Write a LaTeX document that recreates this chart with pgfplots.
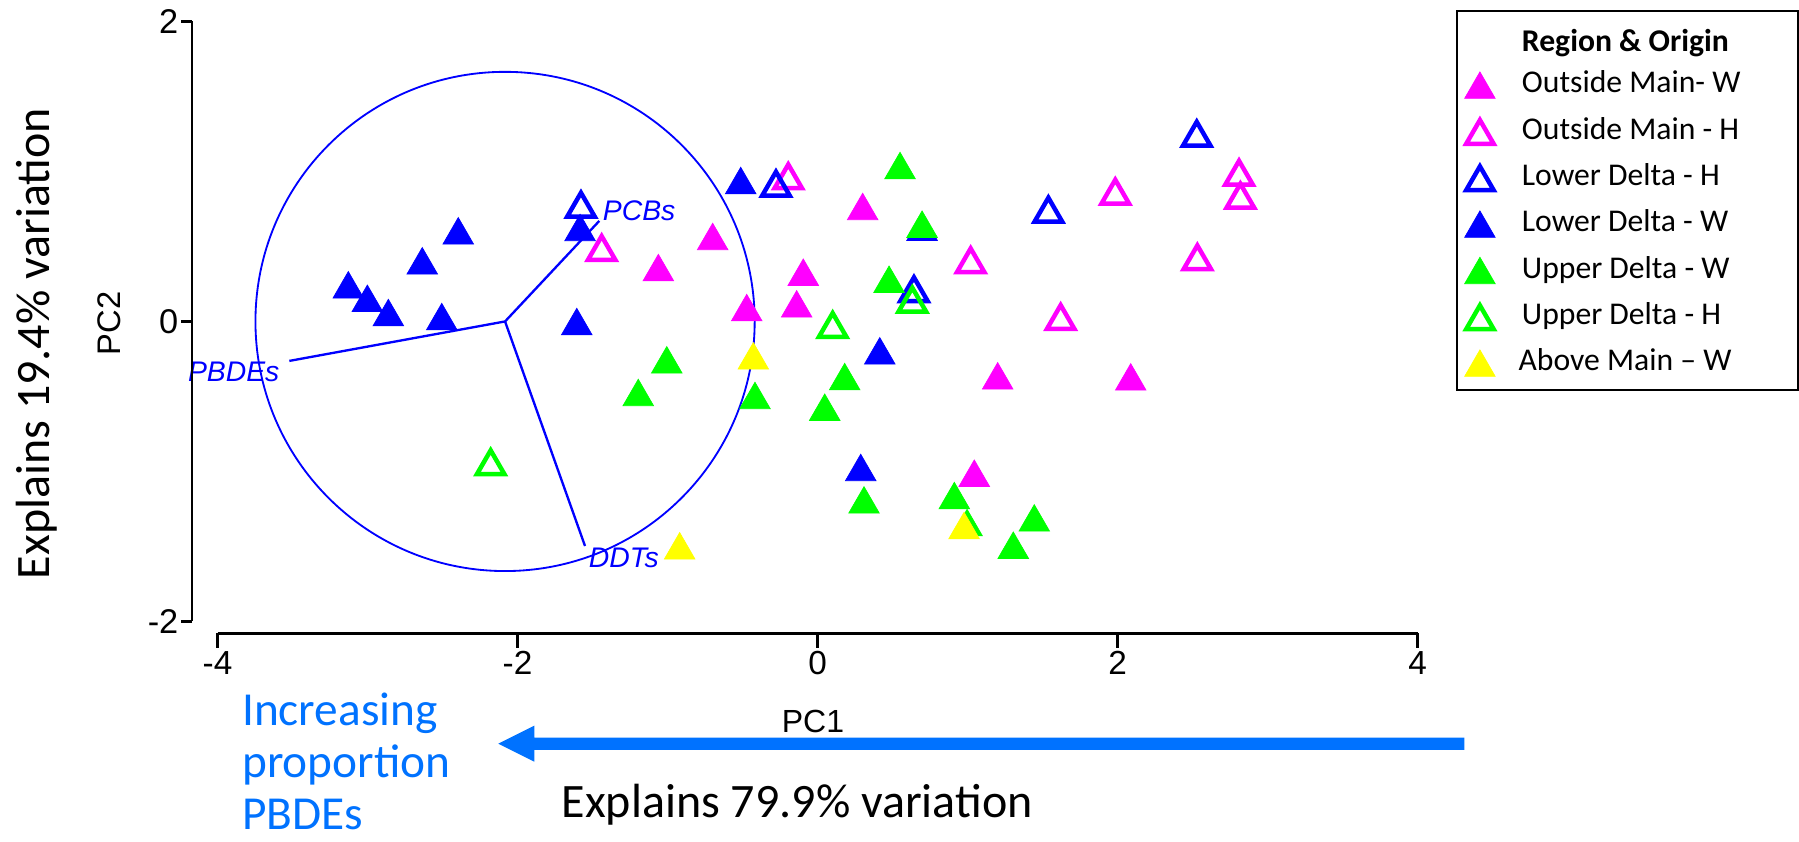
\documentclass[border=0pt]{standalone}
\usepackage{pgfplots}
\pgfplotsset{compat=1.18}
\usepackage{fontspec}
\setmainfont{Carlito}
\newfontfamily\arial{Liberation Sans}
\definecolor{mag}{RGB}{255,0,255}
\definecolor{blu}{RGB}{0,0,255}
\definecolor{grn}{RGB}{0,255,0}
\definecolor{yel}{RGB}{255,255,0}
\definecolor{arrowblue}{RGB}{0,114,255}
\pgfplotsset{
  filled/.style={only marks, mark=triangle*, mark size=5.3pt,
    mark options={solid, draw=#1, fill=#1, line width=0.2pt}},
  hollow/.style={only marks, mark=triangle, mark size=4.75pt,
    mark options={solid, draw=#1, line width=1.35pt}},
  mylegimg/.style={legend image code/.code={%
    \path[draw=none, fill=none] (-6.9pt,-3pt) rectangle (12.6pt,3pt);
    \draw[##1] plot coordinates {(0pt,-1.5pt)};}},
}
\newcommand{\lt}[1]{\makebox[82.8pt][l]{#1}}
\begin{document}
\begin{tikzpicture}
\begin{axis}[
  x=45pt, y=45pt,
  xmin=-5.45, xmax=6.543, ymin=-3.47, ymax=2.143,
  hide axis, clip=false,
  legend style={at={(axis cs:4.257,2.077)}, anchor=north west, draw=black, line width=0.5pt,
     inner xsep=0pt, inner ysep=1.3pt, row sep=0pt, column sep=0pt,
     font=\fontsize{9.5}{11}\selectfont,
     nodes={inner sep=0pt, text height=7pt, text depth=2pt, minimum height=13.9pt}},
  legend cell align=left,
  mylegimg,
]
\addlegendimage{empty legend}
\addlegendentry{\lt{\raisebox{-1.4pt}{\textbf{Region \& Origin}}}}

% Outside Main - W
\addplot[filled=mag] coordinates {
(-1.061,0.33) (0.301,0.737) (-0.699,0.537) (-0.095,0.299) (-0.472,0.063)
(-0.139,0.088) (1.201,-0.392) (2.088,-0.399) (1.045,-1.041)};
\addlegendentry{\lt{Outside Main- W}}
% Outside Main - H
\addplot[hollow=mag] coordinates {
(-1.439,0.463) (-0.195,0.941) (1.021,0.381) (1.621,0.003) (2.81,0.965)
(2.819,0.812) (1.985,0.839) (2.532,0.401)};
\addlegendentry{\lt{Outside Main - H}}
% Lower Delta - H
\addplot[hollow=blu] coordinates {
(-1.577,0.752) (-0.277,0.892) (1.539,0.719) (0.643,0.188) (2.528,1.225)};
\addlegendentry{\lt{Lower Delta - H}}
% Lower Delta - W
\addplot[filled=blu] coordinates {
(-2.395,0.575) (-2.635,0.375) (-3.128,0.215) (-3.001,0.125) (-2.861,0.03)
(-2.505,0.003) (-1.583,0.597) (-1.605,-0.03) (-0.512,0.91) (0.415,-0.225)
(0.288,-1.003) (0.697,0.599)};
\addlegendentry{\lt{Lower Delta - W}}
% Upper Delta - W
\addplot[filled=grn] coordinates {
(-1.005,-0.285) (-1.195,-0.503) (0.55,1.01) (0.477,0.252) (0.181,-0.397)
(-0.417,-0.523) (0.048,-0.601) (0.31,-1.219) (0.912,-1.19) (0.997,-1.37)
(1.445,-1.339) (1.305,-1.521) (0.697,0.619)};
\addlegendentry{\lt{Upper Delta - W}}
% Upper Delta - H
\addplot[hollow=grn] coordinates {
(0.632,0.119) (0.101,-0.05) (-2.179,-0.965)};
\addlegendentry{\lt{Upper Delta - H}}
% Above Main - W
\addplot[filled=yel] coordinates {
(-0.428,-0.259) (0.977,-1.39) (-0.919,-1.525)};
\addlegendentry{\lt{\hspace{-1pt}Above Main -- W}}

% loadings circle and vectors
\draw[blu, line width=0.55pt] (axis cs:-2.083,0) circle[radius=1.664];
\draw[blu, line width=0.7pt] (axis cs:-1.455,0.67) -- (axis cs:-2.083,0) -- (axis cs:-3.521,-0.263);
\draw[blu, line width=0.7pt] (axis cs:-2.083,0) -- (axis cs:-1.55,-1.497);
\node[anchor=west, inner sep=0pt, text=blu, font=\arial\itshape\fontsize{8.5}{10}\selectfont] at (axis cs:-1.435,0.74) {PCBs};
\node[anchor=east, inner sep=0pt, text=blu, font=\arial\itshape\fontsize{8.5}{10}\selectfont] at (axis cs:-3.583,-0.335) {PBDEs};
\node[anchor=west, inner sep=0pt, text=blu, font=\arial\itshape\fontsize{8.5}{10}\selectfont] at (axis cs:-1.528,-1.575) {DDTs};

% y axis
\draw[line width=0.7pt] (axis cs:-4.17,-2) -- (axis cs:-4.17,2);
\draw[line width=0.7pt] (axis cs:-4.17,2) -- (axis cs:-4.243,2);
\draw[line width=0.7pt] (axis cs:-4.17,0) -- (axis cs:-4.243,0);
\draw[line width=0.7pt] (axis cs:-4.17,-2) -- (axis cs:-4.243,-2);
\node[anchor=east, inner sep=0pt, font=\arial\fontsize{10.3}{12}\selectfont] at (axis cs:-4.257,2) {2};
\node[anchor=east, inner sep=0pt, font=\arial\fontsize{10.3}{12}\selectfont] at (axis cs:-4.257,0) {0};
\node[anchor=east, inner sep=0pt, font=\arial\fontsize{10.3}{12}\selectfont] at (axis cs:-4.257,-2) {-2};
% x axis
\draw[line width=0.7pt] (axis cs:-4,-2.08) -- (axis cs:4,-2.08);
\draw[line width=0.7pt] (axis cs:-4,-2.08) -- (axis cs:-4,-2.18);
\draw[line width=0.7pt] (axis cs:-2,-2.08) -- (axis cs:-2,-2.18);
\draw[line width=0.7pt] (axis cs:0,-2.08) -- (axis cs:0,-2.18);
\draw[line width=0.7pt] (axis cs:2,-2.08) -- (axis cs:2,-2.18);
\draw[line width=0.7pt] (axis cs:4,-2.08) -- (axis cs:4,-2.18);
\node[anchor=north, inner sep=0pt, font=\arial\fontsize{10}{12}\selectfont] at (axis cs:-4,-2.197) {-4};
\node[anchor=north, inner sep=0pt, font=\arial\fontsize{10}{12}\selectfont] at (axis cs:-2,-2.197) {-2};
\node[anchor=north, inner sep=0pt, font=\arial\fontsize{10}{12}\selectfont] at (axis cs:0,-2.197) {0};
\node[anchor=north, inner sep=0pt, font=\arial\fontsize{10}{12}\selectfont] at (axis cs:2,-2.197) {2};
\node[anchor=north, inner sep=0pt, font=\arial\fontsize{10}{12}\selectfont] at (axis cs:4,-2.197) {4};

% axis titles
\node[inner sep=0pt, font=\arial\fontsize{9.6}{11}\selectfont] at (axis cs:-0.03,-2.668) {PC1};
\node[rotate=90, inner sep=0pt, font=\arial\fontsize{9.8}{11}\selectfont] at (axis cs:-4.72,-0.013) {PC2};
\node[anchor=base, inner sep=0pt, font=\fontsize{14.4}{17}\selectfont] at (axis cs:-0.135,-3.31) {Explains 79.9\% variation};
\node[rotate=90, anchor=base, inner sep=0pt, font=\fontsize{14.4}{17}\selectfont] at (axis cs:-5.123,-0.147) {Explains 19.4\% variation};
\node[anchor=north west, align=left, inner sep=0pt, text=arrowblue, font=\fontsize{14.2}{15.7}\selectfont] at (axis cs:-3.84,-2.469) {Increasing\\proportion\\PBDEs};

% arrow
\fill[arrowblue] (axis cs:-2.128,-2.815) -- (axis cs:-1.888,-2.695) -- (axis cs:-1.888,-2.774)
  -- (axis cs:4.313,-2.774) -- (axis cs:4.313,-2.856) -- (axis cs:-1.888,-2.856)
  -- (axis cs:-1.888,-2.935) -- cycle;

\coordinate (BL) at (axis cs:-5.45,-3.47);
\coordinate (TR) at (axis cs:6.543,2.143);
\end{axis}
\pgfresetboundingbox
\path (BL) rectangle (TR);
\end{tikzpicture}
\end{document}
